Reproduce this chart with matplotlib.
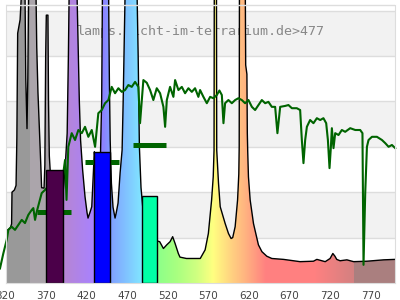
import numpy as np
import matplotlib
matplotlib.use('Agg')
import matplotlib.pyplot as plt
from matplotlib.patches import Polygon
from matplotlib.colors import to_rgb

# ---- data ----
spec_nm = [320, 323, 326, 327.5, 328, 331, 333, 334, 335, 338, 340, 344, 345, 346.5, 347.5, 348.5,
           357.5, 358.5, 360, 362, 363.5, 364.5, 367.5, 368.5, 369.5, 370.3, 372.3, 373, 374, 376,
           380, 385, 390, 392, 394, 396, 397.5, 398.5, 408, 409.5, 411, 412.5, 415, 418, 420.5,
           421.7, 424, 426.3, 428.3, 429.5, 430, 434, 437, 438.5, 439.5, 447, 448, 449, 450.5,
           452.5, 455, 456.5, 458.7, 461.2, 463.7, 465, 466.5, 467.5, 482, 483.5, 485, 487, 490,
           495, 500, 505, 508, 510, 514.6, 518.7, 522.8, 526, 529, 533, 535, 543, 560, 566, 570,
           574, 576, 577, 577.3, 580, 580.3, 582.5, 584.6, 590.7, 594.8, 598, 600, 603, 606, 607.5,
           608, 608.3, 615.5, 616, 617.5, 618, 618.5, 619.4, 621.5, 625.6, 631.7, 636, 642, 648.2,
           662.6, 683, 699.5, 703.7, 714, 720, 723.4, 726, 728.2, 732.3, 740.7, 749, 765.4, 785.9, 800]
spec_val = [1.15, 1.17, 1.22, 1.30, 2.00, 2.05, 2.15, 3.2, 5.5, 5.8, 6.5, 6.5, 4.5, 3.4, 4.5, 6.5,
            6.5, 5.2, 4.2, 3.3, 2.6, 2.1, 2.09, 2.6, 5.0, 5.9, 5.9, 4.0, 2.8, 2.2,
            1.9, 1.7, 1.8, 2.2, 2.7, 3.3, 5.0, 6.5, 6.5, 5.2, 4.0, 3.15, 2.5, 1.9, 1.55,
            1.43, 1.55, 1.68, 2.42, 2.89, 2.8, 2.7, 2.8, 4.0, 6.5, 6.5, 4.5, 3.15, 2.2,
            1.67, 1.43, 1.55, 1.76, 2.42, 2.93, 4.0, 5.5, 6.5, 6.5, 5.0, 3.0, 2.1, 1.5,
            1.1, 0.95, 0.9, 0.92, 0.91, 0.76, 0.84, 0.91, 1.02, 0.87, 0.65, 0.57, 0.54, 0.54, 0.73, 1.09,
            1.83, 2.34, 2.93, 6.5, 6.5, 2.93, 2.2, 1.68, 1.31, 1.09, 0.98, 1.0, 1.24, 1.83, 2.4,
            3.0, 6.5, 6.5, 4.8, 4.6, 3.3, 2.9, 2.34, 1.83, 1.31, 0.84, 0.69, 0.59, 0.54,
            0.52, 0.47, 0.48, 0.52, 0.47, 0.54, 0.65, 0.59, 0.52, 0.49, 0.51, 0.47, 0.48, 0.51, 0.52]

sun_nm = [313.2, 317.3, 321.5, 323.5, 327.6, 331.7, 335.8, 340.0, 344.0, 348.1, 352.3, 354.3, 356.4,
          358.5, 364.6, 368.7, 381.0, 390.9, 393.4, 395.2, 397.4, 401.6, 405.7, 409.8, 414.0, 418.0,
          422.1, 426.3, 430.4, 434.4, 438.6, 442.7, 446.8, 450.9, 455.0, 459.1, 463.3, 467.3, 471.4,
          475.6, 479.7, 483.7, 485.8, 489.9, 494.1, 498.2, 502.2, 506.4, 510.5, 514.6, 516.7, 518.8,
          522.8, 526.9, 529.0, 533.1, 537.3, 541.3, 545.4, 549.6, 553.6, 557.7, 559.8, 563.9, 568.1,
          572.2, 576.2, 580.4, 583.6, 586.6, 588.6, 590.6, 594.7, 598.9, 603.0, 607.0, 611.2, 615.3,
          619.4, 623.6, 627.6, 631.7, 635.9, 640.0, 644.0, 648.2, 652.3, 655.1, 658.5, 664.6, 668.7,
          672.9, 679.0, 683.1, 685.2, 687.2, 689.3, 691.4, 695.4, 699.5, 703.7, 707.8, 711.8, 715.2,
          717.3, 719.3, 721.0, 722.2, 724.2, 726.3, 730.4, 734.5, 738.6, 744.8, 751.0, 757.1, 759.9,
          761.2, 763.3, 765.4, 767.4, 771.6, 777.7, 783.9, 788.0, 792.1, 796.2, 800.3]
sun_val = [0.32, 0.65, 0.95, 1.17, 1.24, 1.17, 1.28, 1.39, 1.32, 1.50, 1.61, 1.65, 1.39,
           1.57, 1.98, 2.05, 2.30, 2.38, 2.71, 1.83, 3.00, 3.30, 3.15, 3.37, 3.30, 3.44,
           3.22, 3.37, 3.00, 3.74, 3.81, 3.96, 4.03, 4.32, 4.18, 4.29, 4.21, 4.25, 4.36,
           4.32, 4.43, 4.32, 3.52, 4.47, 4.41, 4.25, 4.03, 4.29, 4.18, 3.88, 3.44, 4.03,
           4.32, 4.10, 4.47, 4.25, 4.32, 4.18, 4.29, 4.21, 4.29, 4.10, 4.25, 4.10, 3.96,
           4.10, 4.07, 4.14, 4.24, 4.14, 3.52, 3.96, 4.03, 3.96, 4.03, 4.07, 4.03, 3.96,
           4.03, 3.88, 3.81, 3.92, 4.03, 3.96, 3.99, 3.88, 3.88, 3.30, 3.88, 3.90, 3.92,
           3.85, 3.85, 3.81, 3.15, 2.64, 3.15, 3.44, 3.59, 3.52, 3.63, 3.59, 3.63, 3.52,
           3.15, 2.53, 3.00, 3.41, 2.97, 3.30, 3.26, 3.37, 3.33, 3.41, 3.37, 3.37, 3.30,
           0.40, 1.98, 3.00, 3.15, 3.22, 3.22, 3.15, 3.08, 3.00, 3.04, 2.97]

bar_left = [370, 429, 488]
bar_right = [391, 449, 507]
bar_val = [2.49, 2.88, 1.91]
bar_colors = ['#4b0049', '#0000ff', '#00ffa6']

seg_left = [359, 418, 477]
seg_right = [401, 460, 518]
seg_val = [1.56, 2.67, 3.05]

xtick_vals = [320, 370, 420, 470, 520, 570, 620, 670, 720, 770]
xtick_labels = [str(v) for v in xtick_vals]
title = "lamps.licht-im-terrarium.de>477"

# wavelength colour stops for the fill gradient
stop_nm = [320, 348.5, 349, 375, 388, 395, 428, 440, 450, 486, 500, 510, 530, 555, 575, 598, 612,
           640, 700, 748, 748.6, 800]
stop_col = ['#999999', '#999999', '#aba5ab', '#aba5ab', '#b58bd0', '#b585d8', '#a882ff', '#8c82ff',
            '#80a2ff', '#80e4ff', '#80ffb0', '#90ff88', '#a8ff80', '#d0ff80', '#ffff80', '#ffd080',
            '#ffb880', '#ff8080', '#ff8080', '#d48080', '#aa7f7f', '#aa7f7f']

# ---- figure ----
PX = 45.4
YTOP = 283 / PX
FRAME = 278 / PX
fig = plt.figure(figsize=(4, 3), dpi=100)
ax = fig.add_axes([5.5 / 400, 17 / 300, 389.5 / 400, 283 / 300])
ax.set_xlim(320, 800)
ax.set_ylim(0, YTOP)

for lo in (1, 3, 5):
    ax.axhspan(lo, lo + 1, color='#f2f2f2', lw=0, zorder=0)
for g in range(1, 7):
    ax.axhline(g, color='#dddddd', lw=1, zorder=0.5)

ax.text(561, 5.54, title, ha='center', va='center', family='DejaVu Sans Mono',
        size=9.6, color='#888888', zorder=1)

# gradient fill clipped by the spectrum
grid = np.arange(320, 800.25, 0.5)
rgb = np.array([to_rgb(c) for c in stop_col])
cols = np.stack([np.interp(grid, stop_nm, rgb[:, i]) for i in range(3)], axis=-1)
im = ax.imshow(cols[np.newaxis, :, :], extent=[320, 800, 0, YTOP], aspect='auto',
               origin='lower', interpolation='nearest', zorder=2)
verts = [(320, 0)] + list(zip(spec_nm, spec_val)) + [(800, 0)]
poly = Polygon(verts, closed=True, transform=ax.transData)
im.set_clip_path(poly)
ax.plot(spec_nm, spec_val, color='black', lw=1.0, zorder=3)

ax.plot(sun_nm, sun_val, color='#006400', lw=1.5, zorder=4, clip_on=False)
ax.hlines(seg_val, seg_left, seg_right, color='#006400', lw=3.6, zorder=4)

widths = [r - l for l, r in zip(bar_left, bar_right)]
ax.bar(bar_left, bar_val, width=widths, align='edge', color=bar_colors,
       edgecolor='black', lw=1.0, zorder=5)

ax.axhline(FRAME, color='#dddddd', lw=1, zorder=10)
ax.spines['top'].set_visible(False)
for s in ('left', 'right'):
    ax.spines[s].set_bounds(0, FRAME)
for s in ('left', 'right', 'bottom'):
    ax.spines[s].set_color('#dddddd')
    ax.spines[s].set_zorder(10)

ax.set_yticks([])
ax.set_xticks(xtick_vals)
ax.set_xticklabels(xtick_labels)
ax.tick_params(axis='x', length=0, pad=6, labelsize=7.5, labelcolor='#444444')

fig.savefig('out.png', dpi=100)
